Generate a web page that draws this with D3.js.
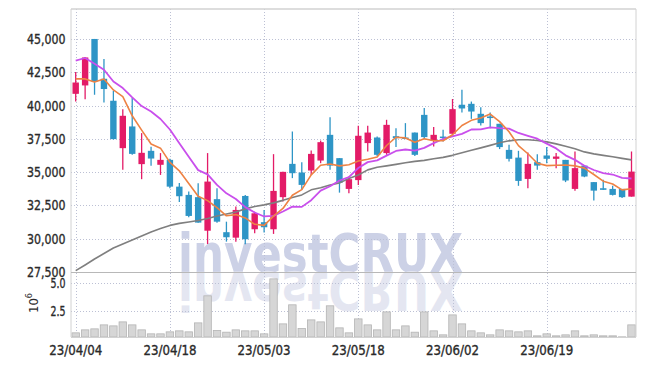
<!DOCTYPE html>
<html><head><meta charset="utf-8">
<script src="https://cdn.jsdelivr.net/npm/d3@7"></script>
<style>body{margin:0;background:#fff}svg{display:block}</style>
</head><body><div id="chart"></div>
<script>
// daily candles, 23/04/04 .. 23/06/30
var dates=['23/04/04','23/04/05','23/04/06','23/04/07','23/04/10','23/04/11','23/04/12','23/04/13','23/04/14','23/04/17',
  '23/04/18','23/04/19','23/04/20','23/04/21','23/04/24','23/04/25','23/04/26','23/04/27','23/04/28','23/05/02',
  '23/05/03','23/05/04','23/05/08','23/05/09','23/05/10','23/05/11','23/05/12','23/05/15','23/05/16','23/05/17',
  '23/05/18','23/05/19','23/05/22','23/05/23','23/05/24','23/05/25','23/05/26','23/05/30','23/05/31','23/06/01',
  '23/06/02','23/06/05','23/06/07','23/06/08','23/06/09','23/06/12','23/06/13','23/06/14','23/06/15','23/06/16',
  '23/06/19','23/06/20','23/06/21','23/06/22','23/06/23','23/06/26','23/06/27','23/06/28','23/06/29','23/06/30'];
var open=[40880,41510,45000,42010,40360,36800,38430,35600,36600,35550,
  35920,33910,33290,33120,30600,32970,30490,30080,33210,30710,
  31240,30710,33120,35620,34970,35120,35870,37800,36050,33740,
  34400,37180,37600,36430,37700,37600,37970,39300,37370,37670,
  37880,40060,40130,39380,39180,38630,36670,36090,34490,35750,
  36250,36000,35920,33740,35490,34250,33790,33740,33740,33160];
var high=[42510,43650,45000,43490,41110,39730,40560,37930,36900,36430,
  36000,34190,33540,34170,36430,33790,31280,32410,33290,32030,
  32160,36350,35020,38050,35750,36620,37370,39130,36050,34670,
  38480,38480,37670,38930,38300,38680,37970,39810,38380,38180,
  40490,41190,40300,39880,39480,38630,37050,36600,36470,36350,
  36880,36430,35920,36550,35490,34250,34420,33970,33740,36550];
var low=[40300,40480,40810,40230,37450,35170,36300,34470,35470,34790,
  33790,32760,31610,31200,29600,31200,29780,29780,29580,30410,
  30460,30360,32790,34550,33670,34790,35670,35170,33460,33420,
  34040,36550,36220,36300,36880,37480,36220,37480,36920,37300,
  37880,39480,39000,38500,38300,36730,35790,33970,33790,35170,
  35670,35300,34250,33610,34620,32860,33670,33240,33060,33160];
var close=[41730,43610,41810,41240,37480,39230,36370,36450,36020,35920,
  33910,33190,31710,31210,34290,31280,30110,32160,29960,31910,
  30860,33590,35020,34920,34040,36370,37250,35490,34210,34470,
  37730,37970,36300,38550,37550,37500,36300,37630,37800,37580,
  39730,39780,39550,38680,39060,36880,36000,34340,35620,35490,
  36000,36170,34370,35300,34670,33610,33670,33290,33120,35040];
// volume, millions of shares
var volume=[0.51,0.78,0.87,1.23,1.14,1.50,1.23,0.78,0.42,0.42,
  0.60,0.69,0.60,1.41,3.85,0.72,0.57,0.78,0.69,0.69,
  0.42,5.38,1.32,3.04,0.90,1.68,1.50,2.95,0.96,0.51,
  1.77,1.23,0.78,2.40,0.78,1.14,0.57,2.40,0.69,0.33,
  2.13,1.32,0.69,0.51,0.33,0.78,0.69,0.60,0.69,0.24,
  0.42,0.24,0.33,0.69,0.24,0.33,0.24,0.24,0.15,1.23];
var ma5=[42000,42000,41760,41990,41170,40670,39230,38150,37110,36800,
  35730,35100,34150,33190,32860,32340,31720,31810,31560,31080,
  31000,31700,32270,33260,33690,34790,35520,35610,35470,35560,
  35830,35970,36140,37000,37620,37570,37240,37510,37360,37360,
  37810,38500,38890,39060,39360,38790,38030,36990,36380,35670,
  35490,35520,35530,35470,35300,34820,34320,34110,33670,33750];
var ma10=[43370,43570,43140,42690,41810,41310,40620,39960,39550,38990,
  38200,37160,36150,35150,34830,34040,33410,32980,32370,31970,
  31670,31710,32040,32410,32390,32890,33610,33940,34370,34620,
  35310,35750,35880,36240,36590,36700,36610,36820,37180,37490,
  37690,37870,38200,38210,38360,38300,38270,37940,37720,37510,
  37140,36780,36260,35920,35480,35160,34920,34820,34570,34520];
var ma20=[27600,28030,28480,28890,29300,29610,29910,30210,30510,30770,
  31000,31150,31260,31370,31520,31710,31860,32010,32240,32420,
  32540,32690,32880,33100,33290,33670,33820,34040,34190,34530,
  34790,35170,35360,35470,35580,35700,35810,35880,36000,36110,
  36260,36450,36640,36820,37010,37200,37350,37430,37430,37370,
  37270,37120,36940,36750,36520,36370,36260,36150,36030,35920];
var priceTicks=[27500,30000,32500,35000,37500,40000,42500,45000];
var volTicks=[2.5,5.0];
var dateTicks=['23/04/04','23/04/18','23/05/03','23/05/18','23/06/02','23/06/19'];

var W=645,H=366;
var L=71,R=636,T=9,MID=272,B=337;
var F='"DejaVu Sans Condensed","DejaVu Sans",sans-serif';
var UP='#e31b67',DN='#2e95c6';

var svg=d3.select('#chart').append('svg').attr('width',W).attr('height',H);

var x=d3.scalePoint().domain(dates).range([75.7,631.5]);
var step=x.step();
var y=d3.scaleLinear().domain([27500,47250]).range([MID,T]);
var yv=d3.scaleLinear().domain([0,6]).range([338.5,MID]);

// watermark + reflection
var wm=svg.append('g');
wm.append('text').attr('x',178).attr('y',MID).attr('font-family','"DejaVu Sans",sans-serif').attr('font-weight','bold')
  .attr('font-size',53).attr('textLength',285).attr('lengthAdjust','spacingAndGlyphs').attr('fill','#ccd1e6').text('investCRUX');
wm.append('text').attr('x',178).attr('y',-MID).attr('transform','scale(1,-1)').attr('font-family','"DejaVu Sans",sans-serif').attr('font-weight','bold')
  .attr('font-size',53).attr('textLength',285).attr('lengthAdjust','spacingAndGlyphs').attr('fill','#e4e6f1').text('investCRUX');

// grid
var grid=svg.append('g').attr('stroke','#bcc0d4').attr('stroke-width',1).attr('stroke-dasharray','1,2');
priceTicks.slice(1).forEach(function(p){
  grid.append('line').attr('x1',L).attr('x2',R).attr('y1',Math.round(y(p))+0.5).attr('y2',Math.round(y(p))+0.5);
});
volTicks.forEach(function(v){
  grid.append('line').attr('x1',L).attr('x2',R).attr('y1',Math.round(yv(v))+0.5).attr('y2',Math.round(yv(v))+0.5);
});
dateTicks.forEach(function(d){
  grid.append('line').attr('x1',Math.round(x(d))+0.5).attr('x2',Math.round(x(d))+0.5).attr('y1',T).attr('y2',B);
});

// volume bars
svg.append('g').selectAll('rect').data(volume).enter().append('rect')
  .attr('x',function(d,i){return x(dates[i])-step*0.45+0.5})
  .attr('y',function(d){return yv(d)})
  .attr('width',step*0.9-1).attr('height',function(d){return Math.max(0,B-yv(d))})
  .attr('fill','#d6d6d6').attr('stroke','#b4b4b4').attr('stroke-width',0.8);

// frame
var fr=svg.append('g').attr('stroke','#d2d2d2').attr('fill','none');
fr.append('line').attr('x1',L).attr('x2',R).attr('y1',T).attr('y2',T).attr('stroke-width',1.5);
fr.append('line').attr('x1',L).attr('x2',L).attr('y1',T).attr('y2',B);
fr.append('line').attr('x1',R).attr('x2',R).attr('y1',T).attr('y2',B);
fr.append('line').attr('x1',L).attr('x2',R).attr('y1',MID+0.5).attr('y2',MID+0.5).attr('stroke','#b8b8b8');
fr.append('line').attr('x1',L).attr('x2',R).attr('y1',B+0.5).attr('y2',B+0.5);

// candles
var cg=svg.append('g');
dates.forEach(function(d,i){
  var c=close[i]>=open[i]?UP:DN, cx=x(d);
  cg.append('line').attr('x1',cx).attr('x2',cx).attr('y1',y(high[i])).attr('y2',y(low[i])).attr('stroke',c).attr('stroke-width',1.3);
  var top=y(Math.max(open[i],close[i])), bot=y(Math.min(open[i],close[i]));
  cg.append('rect').attr('x',cx-step*0.34).attr('width',step*0.68).attr('y',top).attr('height',Math.max(1.5,bot-top)).attr('fill',c);
});

// moving averages
function maLine(vals,col,w){
  var ln=d3.line().x(function(v,i){return x(dates[i])}).y(function(v){return y(v)});
  svg.append('path').datum(vals).attr('d',ln).attr('fill','none').attr('stroke',col).attr('stroke-width',w).attr('stroke-linejoin','round');
}
maLine(ma20,'#7f7f7f',1.6);
maLine(ma10,'#c94fec',1.8);
maLine(ma5,'#ee8244',1.6);

// axis labels (narrow, tall face: squeeze with textLength)
var ax=svg.append('g').attr('font-family',F).attr('font-size',14).attr('fill','#2a2a2a')
  .attr('stroke','#2a2a2a').attr('stroke-width',0.35).attr('lengthAdjust','spacingAndGlyphs');
priceTicks.forEach(function(p){
  ax.append('text').attr('x',65.5).attr('y',y(p)).attr('dy','0.36em').attr('text-anchor','end')
    .attr('textLength',38.5).attr('lengthAdjust','spacingAndGlyphs').text(d3.format(',')(p));
});
volTicks.forEach(function(v){
  ax.append('text').attr('x',65.5).attr('y',yv(v)).attr('dy','0.36em').attr('text-anchor','end')
    .attr('textLength',15).attr('lengthAdjust','spacingAndGlyphs').text(d3.format('.1f')(v));
});
dateTicks.forEach(function(d){
  ax.append('text').attr('x',x(d)).attr('y',354.5).attr('text-anchor','middle')
    .attr('textLength',53).attr('lengthAdjust','spacingAndGlyphs').text(d);
});
var ex=svg.append('text').attr('transform','translate(38,303) rotate(-90)').attr('text-anchor','middle')
  .attr('font-family',F).attr('font-size',13).attr('fill','#2a2a2a');
ex.append('tspan').text('10');
ex.append('tspan').attr('dy',-6).attr('font-size',9).text('6');
</script>
</body></html>
